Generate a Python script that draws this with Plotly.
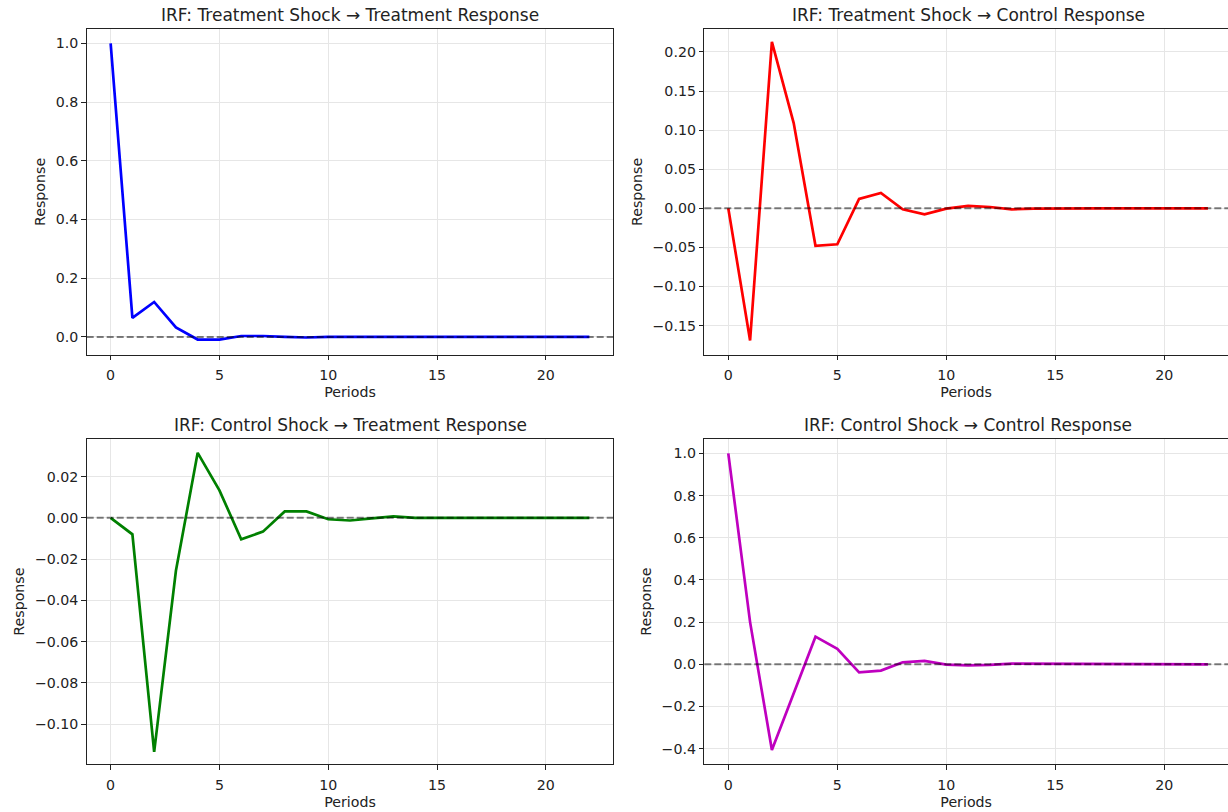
import plotly.graph_objects as go

# ---- data ----
periods = list(range(23))

treat_shock_treat_resp = [1.0, 0.065, 0.119, 0.032, -0.009, -0.009, 0.003, 0.003, 0.0, -0.002,
                          0, 0, 0, 0, 0, 0, 0, 0, 0, 0, 0, 0, 0]
treat_shock_ctrl_resp = [0.0, -0.169, 0.213, 0.109, -0.048, -0.046, 0.012, 0.0197, -0.0013, -0.0077,
                         -0.0004, 0.003, 0.0017, -0.0013, -0.0004, 0, 0, 0, 0, 0, 0, 0, 0]
ctrl_shock_treat_resp = [0.0, -0.0080, -0.1135, -0.0257, 0.0315, 0.0133, -0.0104, -0.0067, 0.0031, 0.0031,
                         -0.0007, -0.0013, -0.0003, 0.0007, 0, 0, 0, 0, 0, 0, 0, 0, 0]
ctrl_shock_ctrl_resp = [1.0, 0.2, -0.406, -0.137, 0.131, 0.073, -0.038, -0.030, 0.0095, 0.016,
                        -0.0016, -0.005, -0.003, 0.003, 0.003, 0, 0, 0, 0, 0, 0, 0, 0]

titles = ["IRF: Treatment Shock \u2192 Treatment Response",
          "IRF: Treatment Shock \u2192 Control Response",
          "IRF: Control Shock \u2192 Treatment Response",
          "IRF: Control Shock \u2192 Control Response"]
series = [treat_shock_treat_resp, treat_shock_ctrl_resp, ctrl_shock_treat_resp, ctrl_shock_ctrl_resp]
colors = ["#0000ff", "#ff0000", "#008000", "#bf00bf"]

y_ranges = [[-0.060, 1.048], [-0.187, 0.229], [-0.1195, 0.0382], [-0.474, 1.068]]
y_dticks = [0.2, 0.05, 0.02, 0.2]
y_formats = [".1f", ".2f", ".2f", ".1f"]
x_ranges = [[-1.1, 23.1], [-1.1, 22.92], [-1.1, 23.1], [-1.1, 22.92]]

W, H = 1228, 812
x_domains = [[86.7 / W, 613.3 / W], [704.3 / W, 1.0]]
y_domains = [[(H - 354.5) / H, (H - 29.3) / H], [(H - 764.3) / H, (H - 439.0) / H]]
title_cx = [(86.7 + 613.3) / 2 / W, (704.3 + 527.6 / 2) / W]

FONT = "DejaVu Sans"
TXT = "#222"
fig = go.Figure()
annotations = []
shapes = []

for i in range(4):
    row, col = divmod(i, 2)
    xa = "x" if i == 0 else f"x{i+1}"
    ya = "y" if i == 0 else f"y{i+1}"
    fig.add_trace(go.Scatter(x=periods, y=series[i], mode="lines",
                             line=dict(color=colors[i], width=2.7),
                             xaxis=xa, yaxis=ya, showlegend=False))
    right = col == 1
    xkey = "xaxis" if i == 0 else f"xaxis{i+1}"
    ykey = "yaxis" if i == 0 else f"yaxis{i+1}"
    fig.layout[xkey] = dict(
        domain=x_domains[col], anchor=ya, range=x_ranges[i],
        tickmode="linear", tick0=0, dtick=5,
        showgrid=True, gridcolor="#e6e6e6", gridwidth=1,
        zeroline=False, showline=True, linecolor=TXT, linewidth=1,
        mirror=True, ticks="outside", ticklen=4.5, tickwidth=1, tickcolor=TXT,
        ticklabelstandoff=3,
        tickfont=dict(family=FONT, size=14.2, color=TXT),
        title=dict(text="Periods", font=dict(family=FONT, size=14.2, color=TXT), standoff=4.5),
    )
    fig.layout[ykey] = dict(
        domain=y_domains[row], anchor=xa, range=y_ranges[i],
        tickmode="linear", tick0=0, dtick=y_dticks[i], tickformat=y_formats[i],
        showgrid=True, gridcolor="#e6e6e6", gridwidth=1,
        zeroline=False, showline=True, linecolor=TXT, linewidth=1,
        mirror=not right, ticks="outside", ticklen=4.5, tickwidth=1, tickcolor=TXT,
        tickfont=dict(family=FONT, size=14.2, color=TXT),
        title=dict(text="Response", font=dict(family=FONT, size=14.2, color=TXT), standoff=6),
    )
    # zero reference line across the full axes width
    shapes.append(dict(type="line", xref=f"{xa} domain", yref=ya, x0=0, x1=1, y0=0, y1=0,
                       line=dict(color="rgba(0,0,0,0.5)", width=2, dash="7px,3px"), layer="above"))
    annotations.append(dict(text=titles[i], xref="paper", yref="paper", x=title_cx[col], y=y_domains[row][1],
                            xanchor="center", yanchor="bottom", yshift=2, showarrow=False,
                            font=dict(family=FONT, size=17, color=TXT)))

fig.update_layout(width=W, height=H, margin=dict(l=0, r=0, t=0, b=0),
                  paper_bgcolor="white", plot_bgcolor="white",
                  annotations=annotations, shapes=shapes, showlegend=False)

fig.write_html("out.html", config={"displayModeBar": False},
               post_script="document.body.style.margin='0';")
